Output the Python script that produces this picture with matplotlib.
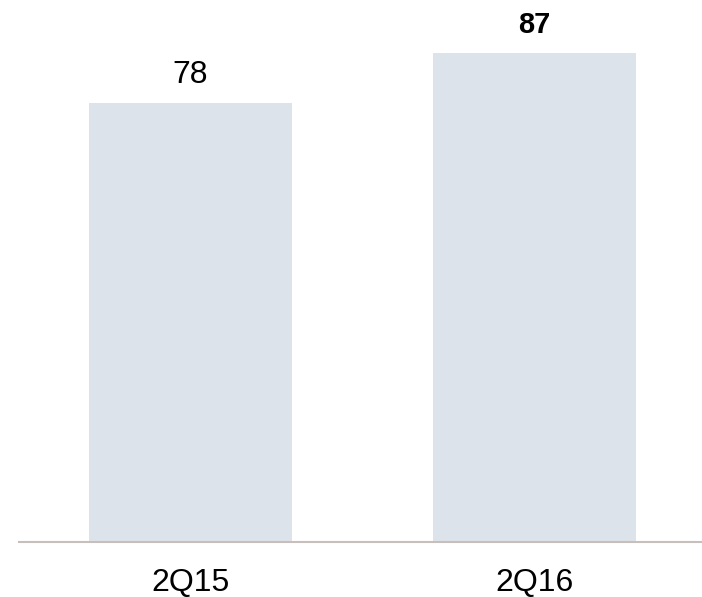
import matplotlib.pyplot as plt

quarters = ["2Q15", "2Q16"]
values = [78, 87]
label_bold = [False, True]

plt.rcParams['font.family'] = ['Liberation Sans', 'DejaVu Sans']

fig = plt.figure(figsize=(7.02, 5.97), dpi=100)
ax = fig.add_axes([19 / 702, 55 / 597, 683 / 702, 542 / 597])

x = list(range(len(quarters)))
ax.bar(x, values, width=0.59, color="#dce3ea", zorder=2)

# value labels above the bars
for xi, v, bold in zip(x, values, label_bold):
    ax.annotate(str(v), (xi, v), xytext=(0, 14.4), textcoords="offset points",
                ha="center", va="baseline",
                fontsize=21 if bold else 23,
                fontweight="bold" if bold else "normal", color="black")

ax.set_xlim(-0.4985, 1.487)
ax.set_ylim(0, 96.4)
ax.set_xticks(x)
ax.set_xticklabels(quarters, fontsize=23)
ax.tick_params(axis="x", length=0, pad=19)
ax.set_yticks([])

for side in ["top", "right", "left"]:
    ax.spines[side].set_visible(False)
ax.spines["bottom"].set_color("#c6bfbb")
ax.spines["bottom"].set_linewidth(1.5)

fig.savefig("out.png", dpi=100)
